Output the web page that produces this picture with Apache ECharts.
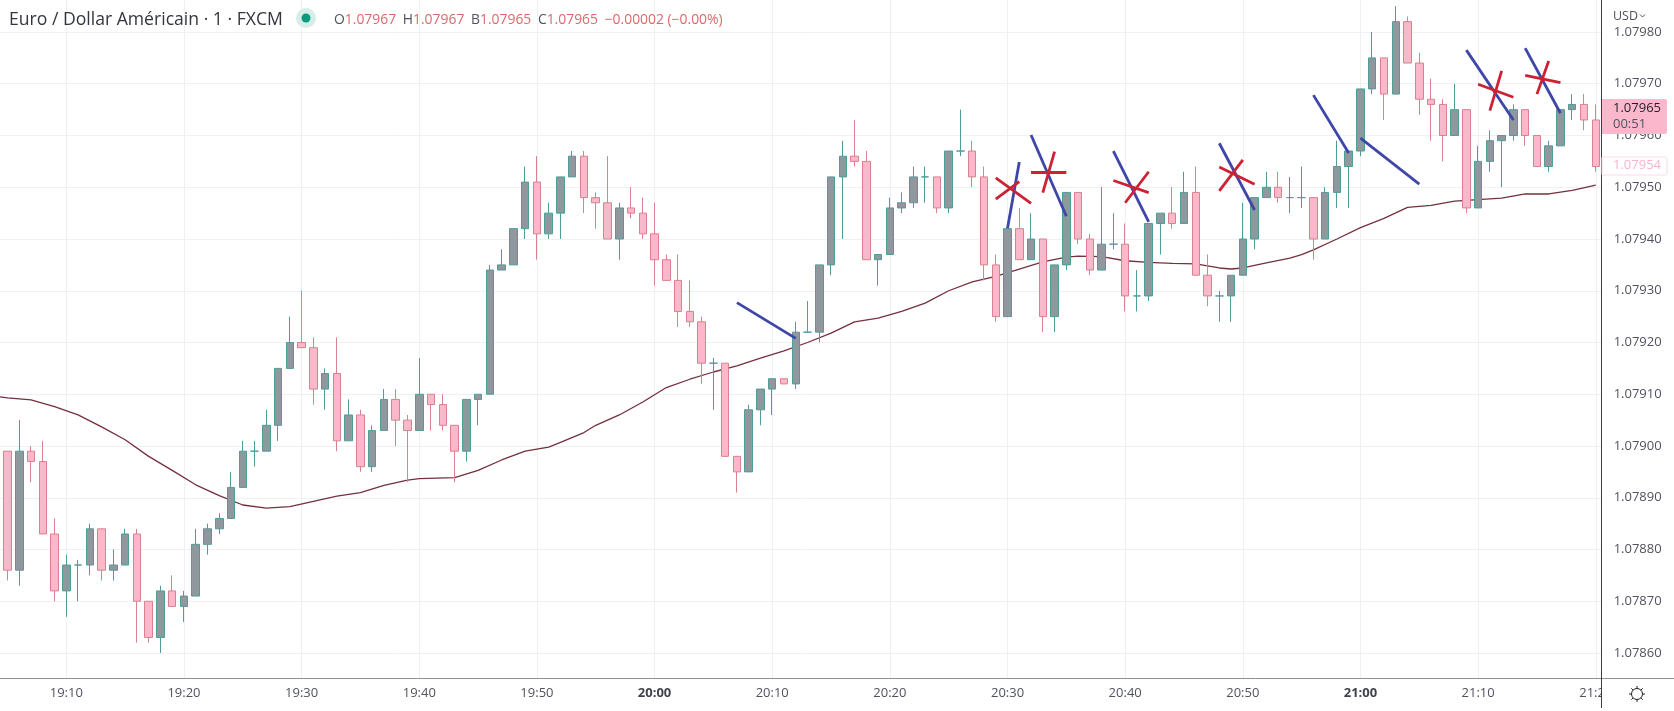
<!DOCTYPE html>
<html><head><meta charset="utf-8">
<style>html,body{margin:0;padding:0;background:#fff}#c{width:1674px;height:711px}</style>
<script src="https://cdn.jsdelivr.net/npm/echarts@6/dist/echarts.min.js"></script>
</head><body><div id="c"></div>
<script>
// Minutes from 19:04 to 21:20 (19:04 has no visible candle: it only carries the average line off the left edge)
const categories = [];
for (let m = 19 * 60 + 4; m <= 21 * 60 + 20; m++) {
  categories.push(Math.floor(m / 60) + ':' + String(m % 60).padStart(2, '0'));
}
const open = [null,
1.07899,1.07876,1.07899,1.07897,1.07883,1.07872,1.07877,1.07877,1.07884,1.07876,1.07877,1.07883,1.07870,1.07863,1.07872,
1.07869,1.07871,1.07881,1.07884,1.07886,1.07892,1.07899,1.07899,1.07904,1.07915,1.07920,1.07919,1.07911,1.07914,1.07901,
1.07906,1.07896,1.07903,1.07909,1.07905,1.07903,1.07910,1.07908,1.07904,1.07899,1.07909,1.07910,1.07934,1.07935,1.07942,
1.07951,1.07941,1.07945,1.07952,1.07956,1.07948,1.07947,1.07940,1.07946,1.07945,1.07941,1.07936,1.07932,1.07926,1.07924,
1.07916,1.07916,1.07898,1.07895,1.07907,1.07911,1.07913,1.07912,1.07922,1.07922,1.07935,1.07952,1.07956,1.07955,1.07936,
1.07937,1.07946,1.07947,1.07952,1.07952,1.07946,1.07957,1.07957,1.07952,1.07935,1.07925,1.07942,1.07936,1.07940,1.07925,
1.07935,1.07949,1.07940,1.07934,1.07939,1.07939,1.07929,1.07929,1.07943,1.07945,1.07943,1.07949,1.07933,1.07929,1.07929,
1.07933,1.07940,1.07948,1.07950,1.07948,1.07948,1.07948,1.07940,1.07949,1.07954,1.07957,1.07969,1.07975,1.07968,1.07982,
1.07974,1.07967,1.07966,1.07960,1.07965,1.07946,1.07955,1.07959,1.07960,1.07965,1.07960,1.07954,1.07958,1.07965,1.07966,1.07963];
const close = [null,
1.07876,1.07899,1.07897,1.07883,1.07872,1.07877,1.07877,1.07884,1.07876,1.07877,1.07883,1.07870,1.07863,1.07872,1.07869,
1.07871,1.07881,1.07884,1.07886,1.07892,1.07899,1.07899,1.07904,1.07915,1.07920,1.07919,1.07911,1.07914,1.07901,1.07906,
1.07896,1.07903,1.07909,1.07905,1.07903,1.07910,1.07908,1.07904,1.07899,1.07909,1.07910,1.07934,1.07935,1.07942,1.07951,
1.07941,1.07945,1.07952,1.07956,1.07948,1.07947,1.07940,1.07946,1.07945,1.07941,1.07936,1.07932,1.07926,1.07924,1.07916,
1.07916,1.07898,1.07895,1.07907,1.07911,1.07913,1.07912,1.07922,1.07922,1.07935,1.07952,1.07956,1.07955,1.07936,1.07937,
1.07946,1.07947,1.07952,1.07952,1.07946,1.07957,1.07957,1.07952,1.07935,1.07925,1.07942,1.07936,1.07940,1.07925,1.07935,
1.07949,1.07940,1.07934,1.07939,1.07939,1.07929,1.07929,1.07943,1.07945,1.07943,1.07949,1.07933,1.07929,1.07929,1.07933,
1.07940,1.07948,1.07950,1.07948,1.07948,1.07948,1.07940,1.07949,1.07954,1.07957,1.07969,1.07975,1.07968,1.07982,1.07974,
1.07967,1.07966,1.07960,1.07965,1.07946,1.07955,1.07959,1.07960,1.07965,1.07960,1.07954,1.07958,1.07965,1.07966,1.07963,1.07954];
const low = [null,
1.07874,1.07873,1.07893,1.07883,1.07870,1.07867,1.07870,1.07875,1.07874,1.07874,1.07877,1.07862,1.07862,1.07860,1.07869,
1.07866,1.07871,1.07879,1.07883,1.07886,1.07892,1.07896,1.07899,1.07901,1.07915,1.07919,1.07908,1.07907,1.07899,1.07901,
1.07895,1.07895,1.07903,1.07900,1.07893,1.07903,1.07903,1.07903,1.07893,1.07897,1.07904,1.07910,1.07934,1.07935,1.07940,
1.07936,1.07940,1.07940,1.07952,1.07945,1.07942,1.07940,1.07936,1.07944,1.07940,1.07931,1.07932,1.07923,1.07923,1.07912,
1.07907,1.07898,1.07891,1.07895,1.07904,1.07906,1.07912,1.07911,1.07922,1.07920,1.07933,1.07940,1.07954,1.07936,1.07931,
1.07937,1.07945,1.07946,1.07947,1.07945,1.07945,1.07956,1.07950,1.07932,1.07924,1.07925,1.07936,1.07936,1.07922,1.07922,
1.07934,1.07939,1.07933,1.07934,1.07938,1.07926,1.07926,1.07928,1.07937,1.07942,1.07943,1.07933,1.07927,1.07924,1.07924,
1.07933,1.07938,1.07948,1.07947,1.07945,1.07946,1.07936,1.07940,1.07946,1.07946,1.07956,1.07968,1.07963,1.07968,1.07974,
1.07964,1.07959,1.07955,1.07960,1.07945,1.07946,1.07953,1.07950,1.07959,1.07958,1.07954,1.07953,1.07958,1.07963,1.07961,1.07953];
const high = [null,
1.07899,1.07905,1.07900,1.07901,1.07886,1.07879,1.07878,1.07885,1.07884,1.07880,1.07884,1.07884,1.07870,1.07873,1.07875,
1.07872,1.07884,1.07885,1.07887,1.07895,1.07901,1.07901,1.07907,1.07915,1.07925,1.07930,1.07921,1.07915,1.07921,1.07909,
1.07907,1.07904,1.07911,1.07911,1.07906,1.07917,1.07910,1.07910,1.07904,1.07909,1.07910,1.07935,1.07938,1.07942,1.07954,
1.07956,1.07947,1.07952,1.07957,1.07957,1.07949,1.07956,1.07947,1.07950,1.07948,1.07947,1.07937,1.07937,1.07932,1.07925,
1.07917,1.07916,1.07898,1.07908,1.07911,1.07913,1.07913,1.07924,1.07928,1.07935,1.07952,1.07959,1.07963,1.07957,1.07937,
1.07948,1.07949,1.07954,1.07954,1.07952,1.07957,1.07965,1.07959,1.07954,1.07937,1.07942,1.07946,1.07945,1.07940,1.07935,
1.07949,1.07949,1.07941,1.07950,1.07945,1.07943,1.07934,1.07943,1.07945,1.07950,1.07953,1.07954,1.07937,1.07930,1.07933,
1.07947,1.07948,1.07953,1.07953,1.07952,1.07954,1.07948,1.07950,1.07959,1.07957,1.07969,1.07980,1.07975,1.07985,1.07983,
1.07976,1.07971,1.07967,1.07970,1.07965,1.07958,1.07961,1.07960,1.07966,1.07965,1.07960,1.07959,1.07965,1.07968,1.07968,1.07966];

const maTimes = ['19:04','19:05','19:07','19:09','19:11','19:13','19:15','19:17','19:19','19:21','19:23','19:25','19:27','19:29','19:31','19:33','19:35','19:37','19:39','19:40','19:43','19:45','19:47','19:49','19:51','19:52','19:54','19:55','19:57','19:59','20:01','20:03','20:05','20:07','20:09','20:11','20:13','20:15','20:17','20:19','20:21','20:23','20:25','20:27','20:29','20:31','20:33','20:35','20:36','20:38','20:40','20:42','20:44','20:46','20:48','20:49','20:50','20:52','20:54','20:55','20:56','20:58','21:00','21:02','21:04','21:06','21:08','21:10','21:12','21:14','21:16','21:18','21:20'];
const maValues = [1.079096,1.079093,1.079089,1.079076,1.07906,1.079037,1.079012,1.07898,1.078953,1.078925,1.078904,1.078886,1.07888,1.078883,1.078893,1.078903,1.07891,1.078924,1.078934,1.078937,1.078939,1.078953,1.078973,1.07899,1.078998,1.079007,1.079026,1.07904,1.07906,1.079085,1.079113,1.079129,1.079143,1.079155,1.07917,1.079184,1.0792,1.079218,1.07924,1.079247,1.07926,1.079276,1.0793,1.079317,1.079328,1.079342,1.079356,1.079365,1.079367,1.079366,1.079358,1.079355,1.079353,1.079352,1.079344,1.079342,1.079344,1.079354,1.079363,1.07937,1.079379,1.0794,1.079422,1.07944,1.079461,1.079465,1.079473,1.079476,1.079479,1.079487,1.079487,1.079494,1.079504];

// Hand-drawn annotations: [minute index, price, minute index, price]
const blueStrokes = [
 [63.12,1.079277,68.08,1.079208],[85.87,1.079421,86.70,1.079549],[88.19,1.079601,90.66,1.079444],
 [94.86,1.07957,98.17,1.079433],[104.06,1.079585,106.55,1.079456],[112.33,1.079678,114.97,1.079566],
 [116.24,1.079595,121.4,1.079506],[125.39,1.079765,128.79,1.07963],[129.79,1.079769,132.82,1.079643]];
const redStrokes = [
 [85.13,1.079518,87.77,1.079469],[85.08,1.079477,87.43,1.079511],[87.66,1.0795295,90.6,1.0795295],[88.76,1.0794895,89.7,1.079569],
 [95.08,1.079513,97.96,1.0794895],[95.65,1.07947,97.54,1.07953],[103.78,1.079539,106.72,1.079506],[104.4,1.079493,106.13,1.079553],
 [125.96,1.079699,128.94,1.079674],[126.73,1.079648,127.86,1.079725],[129.62,1.079716,133.1,1.079702],[130.55,1.07968,132.05,1.079744]];

const timeTicks = categories.filter(c => c.endsWith('0'));
const priceMin = 1.0785, priceMax = 1.0799, priceStep = 0.0001;
const lastPrice = 1.07965;

const FONT = '"Open Sans", sans-serif';
const GRID = '#edf0f4', TXT = '#50535e';
const UP_FILL = '#8e989d', UP_LINE = '#4f9c99', DOWN_FILL = '#fbb7cb', DOWN_LINE = '#d9828d';

const strokes = (list) => list.map(s => [{ coord: [s[0], s[1]] }, { coord: [s[2], s[3]] }]);
const chart = echarts.init(document.getElementById('c'), null, { renderer: 'canvas' });

const rayLines = [];
for (let a = 0; a < 8; a++) {
  const t = a * Math.PI / 4;
  rayLines.push({ type: 'line', z: 12, silent: true,
    shape: { x1: 1637 + 5.5 * Math.cos(t), y1: 694 + 5.5 * Math.sin(t), x2: 1637 + 8 * Math.cos(t), y2: 694 + 8 * Math.sin(t) },
    style: { stroke: '#222', lineWidth: 1 } });
}

const priceAxisBase = { type: 'value', position: 'right', min: priceMin, max: priceMax, interval: priceStep,
  axisLine: { show: false }, axisTick: { show: false } };

chart.setOption({
  animation: false,
  backgroundColor: '#fff',
  grid: { left: -10.15, width: 1611.8, top: -19.75, height: 724.5, containLabel: false, outerBoundsMode: 'none' },
  xAxis: {
    type: 'category', data: categories, offset: -27, z: 4,
    axisLine: { show: false }, axisTick: { show: false }, splitLine: { show: false },
    axisLabel: {
      interval: (i, v) => timeTicks.includes(v), margin: 9, fontFamily: FONT, fontSize: 13, color: TXT, hideOverlap: false,
      formatter: v => (v === '20:00' || v === '21:00') ? '{b|' + v + '}' : v,
      rich: { b: { fontFamily: FONT, fontSize: 13, fontWeight: 'bold', color: '#3f424c' } }
    }
  },
  yAxis: [
    { ...priceAxisBase, z: 0, axisLabel: { show: false },
      splitLine: { show: true, showMinLine: false, lineStyle: { color: GRID, width: 1 } } },
    { ...priceAxisBase, z: 6, splitLine: { show: false },
      axisLabel: { showMinLabel: false, margin: 12, fontFamily: FONT, fontSize: 13, color: TXT, formatter: v => v.toFixed(5) } }
  ],
  series: [
    { type: 'line', name: 'grid', data: [], z: 1, silent: true, symbol: 'none',
      markLine: { z: 1, silent: true, symbol: 'none', label: { show: false }, animation: false,
        lineStyle: { color: GRID, width: 1, type: 'solid' },
        data: timeTicks.map(t => ({ xAxis: t })) } },
    { type: 'line', name: 'last', data: [], z: 1, silent: true, symbol: 'none',
      markLine: { z: 1, silent: true, symbol: 'none', label: { show: false }, animation: false,
        lineStyle: { color: '#e4a9b9', width: 1, type: [1, 2] },
        data: [{ yAxis: lastPrice }] } },
    { type: 'line', name: 'MA', data: maTimes.map((t, i) => [t, maValues[i]]), z: 1, symbol: 'none', silent: true,
      lineStyle: { color: '#74303f', width: 1.3 } },
    { type: 'candlestick', name: 'EURUSD', z: 2, barWidth: 8, silent: true,
      data: categories.map((c, i) => open[i] === null ? '-' : [open[i], close[i], low[i], high[i]]),
      itemStyle: { color: UP_FILL, color0: DOWN_FILL, borderColor: UP_LINE, borderColor0: DOWN_LINE, borderColorDoji: UP_LINE, borderWidth: 1 },
      markLine: { silent: true, symbol: 'none', label: { show: false }, animation: false, z: 6,
        data: [
          ...strokes(blueStrokes).map(d => [{ ...d[0], lineStyle: { color: '#3e46a8', width: 2.8, type: 'solid' } }, d[1]]),
          ...strokes(redStrokes).map(d => [{ ...d[0], lineStyle: { color: '#cc2233', width: 2.8, type: 'solid' } }, d[1]])
        ] } }
  ],
  graphic: { elements: [
    { type: 'rect', z: 3, silent: true, shape: { x: 0, y: 679, width: 1674, height: 32 }, style: { fill: '#fff' } },
    { type: 'rect', z: 5, silent: true, shape: { x: 1602, y: 0, width: 72, height: 711 }, style: { fill: '#fff' } },
    { type: 'rect', z: 7, silent: true, shape: { x: 1602, y: 0, width: 72, height: 27 }, style: { fill: '#fff' } },
    { type: 'rect', z: 7, silent: true, shape: { x: 1602, y: 679, width: 72, height: 32 }, style: { fill: '#fff' } },
    { type: 'line', z: 8, silent: true, shape: { x1: 0, y1: 678.5, x2: 1674, y2: 678.5 }, style: { stroke: '#8d8f92', lineWidth: 1 } },
    { type: 'line', z: 8, silent: true, shape: { x1: 1601.5, y1: 0, x2: 1601.5, y2: 708 }, style: { stroke: '#3a3c40', lineWidth: 1 } },
    // header
    { type: 'text', z: 9, silent: true, x: 9, y: 11, style: { text: 'Euro / Dollar Américain · 1 · FXCM', font: '17.6px ' + FONT, fill: '#33363f' } },
    { type: 'circle', z: 9, silent: true, shape: { cx: 306, cy: 18, r: 10 }, style: { fill: '#d6ede8' } },
    { type: 'circle', z: 9, silent: true, shape: { cx: 306, cy: 18, r: 4.5 }, style: { fill: '#0b9a80' } },
    { type: 'text', z: 9, silent: true, x: 334, y: 13, style: {
        text: '{g|O}{r|1.07967}  {g|H}{r|1.07967}  {g|B}{r|1.07965}  {g|C}{r|1.07965}  {r|−0.00002 (−0.00%)}',
        rich: { g: { fill: TXT, font: '13.9px ' + FONT }, r: { fill: '#d9696c', font: '13.9px ' + FONT } } } },
    { type: 'text', z: 9, silent: true, x: 1613, y: 10, style: { text: 'USD', font: '12.5px ' + FONT, fill: TXT } },
    { type: 'polyline', z: 9, silent: true, shape: { points: [[1640, 14.5], [1642.5, 17], [1645, 14.5]] }, style: { fill: 'none', stroke: TXT, lineWidth: 1 } },
    // price tags
    { type: 'rect', z: 9, silent: true, shape: { x: 1602, y: 99, width: 65, height: 35, r: [0, 2, 2, 0] }, style: { fill: '#fbb7cb' } },
    { type: 'text', z: 10, silent: true, x: 1613, y: 102, style: { text: '1.07965', font: '13px ' + FONT, fill: '#1f2026' } },
    { type: 'text', z: 10, silent: true, x: 1613, y: 118, style: { text: '00:51', font: '13px ' + FONT, fill: '#50535e' } },
    { type: 'rect', z: 9, silent: true, shape: { x: 1602, y: 157, width: 65, height: 18, r: [0, 2, 2, 0] }, style: { fill: '#fff', stroke: '#fbdbe5', lineWidth: 1 } },
    { type: 'text', z: 10, silent: true, x: 1613, y: 159, style: { text: '1.07954', font: '13px ' + FONT, fill: '#f7b5c9' } },
    // settings icon
    { type: 'circle', z: 12, silent: true, shape: { cx: 1637, cy: 694, r: 5.5 }, style: { fill: '#fff', stroke: '#222', lineWidth: 1 } },
    ...rayLines
  ] }
});
</script></body></html>
